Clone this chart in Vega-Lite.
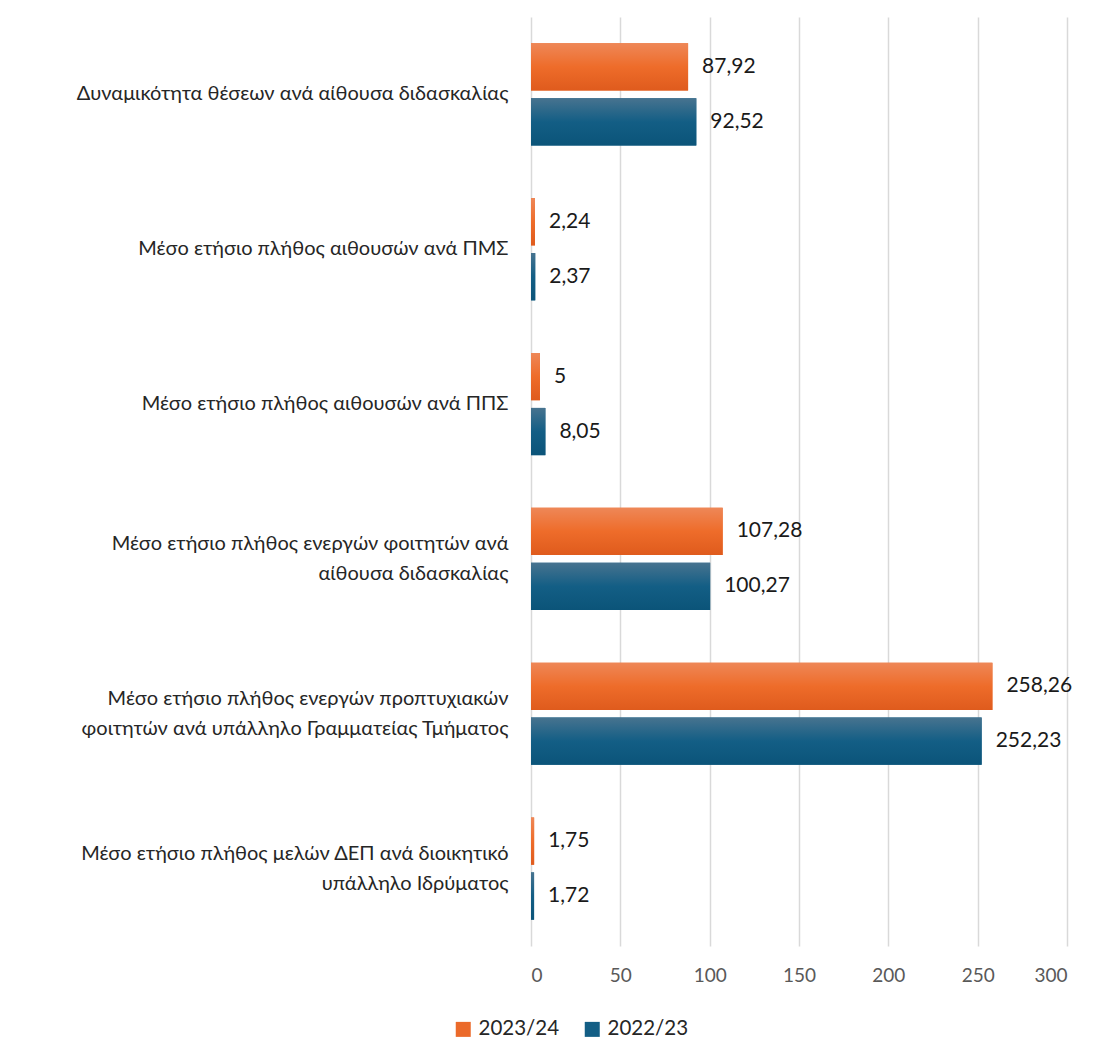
{
  "$schema": "https://vega.github.io/schema/vega-lite/v6.json",
  "autosize": {"type": "none"},
  "width": 536,
  "height": 929,
  "padding": {"left": 531, "top": 17, "right": 35, "bottom": 113},
  "background": "white",
  "config": {
    "locale": {"number": {"decimal": ",", "thousands": ".", "grouping": [3], "currency": ["", " €"]}},
    "font": "Lato",
    "view": {"stroke": null}
  },
  "data": {
    "values": [
      {"cat": "Δυναμικότητα θέσεων ανά αίθουσα διδασκαλίας", "year": "2023/24", "value": 87.92},
      {"cat": "Δυναμικότητα θέσεων ανά αίθουσα διδασκαλίας", "year": "2022/23", "value": 92.52},
      {"cat": "Μέσο ετήσιο πλήθος αιθουσών ανά ΠΜΣ", "year": "2023/24", "value": 2.24},
      {"cat": "Μέσο ετήσιο πλήθος αιθουσών ανά ΠΜΣ", "year": "2022/23", "value": 2.37},
      {"cat": "Μέσο ετήσιο πλήθος αιθουσών ανά ΠΠΣ", "year": "2023/24", "value": 5},
      {"cat": "Μέσο ετήσιο πλήθος αιθουσών ανά ΠΠΣ", "year": "2022/23", "value": 8.05},
      {"cat": "Μέσο ετήσιο πλήθος ενεργών φοιτητών ανά|αίθουσα διδασκαλίας", "year": "2023/24", "value": 107.28},
      {"cat": "Μέσο ετήσιο πλήθος ενεργών φοιτητών ανά|αίθουσα διδασκαλίας", "year": "2022/23", "value": 100.27},
      {"cat": "Μέσο ετήσιο πλήθος ενεργών προπτυχιακών|φοιτητών ανά υπάλληλο Γραμματείας Τμήματος", "year": "2023/24", "value": 258.26},
      {"cat": "Μέσο ετήσιο πλήθος ενεργών προπτυχιακών|φοιτητών ανά υπάλληλο Γραμματείας Τμήματος", "year": "2022/23", "value": 252.23},
      {"cat": "Μέσο ετήσιο πλήθος μελών ΔΕΠ ανά διοικητικό|υπάλληλο Ιδρύματος", "year": "2023/24", "value": 1.75},
      {"cat": "Μέσο ετήσιο πλήθος μελών ΔΕΠ ανά διοικητικό|υπάλληλο Ιδρύματος", "year": "2022/23", "value": 1.72}
    ]
  },
  "encoding": {
    "y": {
      "field": "cat", "type": "nominal", "sort": null,
      "scale": {"paddingInner": 0.34, "paddingOuter": 0.17},
      "axis": {
        "title": null, "domain": false, "ticks": false,
        "labelExpr": "split(datum.label, '|')",
        "labelFontSize": 20, "labelColor": "#262626", "labelPadding": 23,
        "labelLineHeight": 30, "labelLimit": 0, "labelFont": "Lato",
        "labelOffset": {"condition": {"test": "indexof(datum.value, '|') >= 0", "value": -15}, "value": 0}
      }
    },
    "yOffset": {"field": "year", "type": "nominal", "scale": {"domain": ["2023/24", "2022/23"], "paddingInner": 0.14}},
    "x": {
      "field": "value", "type": "quantitative",
      "scale": {"domain": [0, 300], "nice": false},
      "axis": {
        "title": null, "values": [0, 50, 100, 150, 200, 250, 300], "domain": false,
        "ticks": false, "grid": true, "gridColor": "#D9D9D9", "gridWidth": 1.5,
        "labelFontSize": 19, "labelColor": "#595959", "labelPadding": 20, "labelFont": "Lato"
      }
    }
  },
  "layer": [
    {
      "mark": {"type": "bar"},
      "encoding": {
        "color": {
          "field": "year", "type": "nominal",
          "scale": {"domain": ["2023/24", "2022/23"], "range": ["#EB6A2A", "#135E85"]},
          "legend": {
            "title": null, "orient": "none", "direction": "horizontal",
            "legendX": -78, "legendY": 1002,
            "symbolType": "square", "symbolSize": 225, "labelFontSize": 20.5,
            "labelColor": "#262626", "labelFont": "Lato", "columnPadding": 22,
            "labelOffset": 5, "symbolStrokeWidth": 0
          }
        }
      }
    },
    {
      "transform": [{"filter": "datum.year === '2023/24'"}],
      "mark": {
        "type": "bar",
        "fill": {"gradient": "linear", "x1": 0, "y1": 0, "x2": 0, "y2": 1,
          "stops": [{"offset": 0, "color": "#EE8757"}, {"offset": 0.5, "color": "#EE6C2A"}, {"offset": 1, "color": "#DF5B1D"}]}
      },
      "encoding": {}
    },
    {
      "transform": [{"filter": "datum.year === '2022/23'"}],
      "mark": {
        "type": "bar",
        "fill": {"gradient": "linear", "x1": 0, "y1": 0, "x2": 0, "y2": 1,
          "stops": [{"offset": 0, "color": "#47738F"}, {"offset": 0.5, "color": "#135E85"}, {"offset": 1, "color": "#0B5479"}]}
      },
      "encoding": {}
    },
    {
      "mark": {"type": "text", "align": "left", "baseline": "middle", "dx": 14, "fontSize": 21, "color": "#1a1a1a", "font": "Lato"},
      "encoding": {"text": {"field": "value", "type": "quantitative", "format": ".2~f"}}
    }
  ]
}
